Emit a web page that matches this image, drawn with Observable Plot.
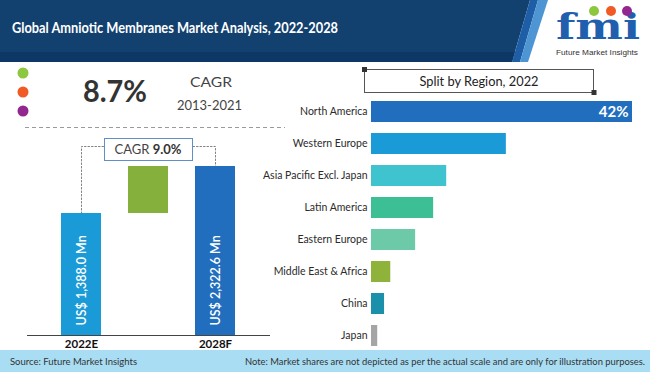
<!DOCTYPE html>
<html><head><meta charset="utf-8">
<script src="https://cdn.jsdelivr.net/npm/d3@7"></script>
<script src="https://cdn.jsdelivr.net/npm/@observablehq/plot@0.6"></script>
<style>
body{margin:0;background:#fff;}
#root{position:relative;width:650px;height:372px;overflow:hidden;font-family:Lato,"Noto Sans",sans-serif;}
#root > svg{position:absolute;}
</style></head><body><div id="root"></div>
<script>
// ---- data ----
const chartTitle = "Global Amniotic Membranes Market Analysis, 2022-2028";
const historicCagr = "8.7%";
const historicCagrLabel = "CAGR";
const historicPeriod = "2013-2021";
const forecastCagrLabel = "CAGR ";
const forecastCagr = "9.0%";
const marketYears = ["2022E", "2028F"];
const marketValues = [1388.0, 2322.6];
const marketLabels = ["US$ 1,388.0 Mn", "US$ 2,322.6 Mn"];
const splitTitle = "Split by Region, 2022";
const regions = ["North America", "Western Europe", "Asia Pacific Excl. Japan", "Latin America", "Eastern Europe", "Middle East & Africa", "China", "Japan"];
const regionShares = [42, 21.7, 12.1, 10.0, 7.1, 3.1, 2.1, 1.0];
const regionColors = ["#216ebe", "#1a9bd7", "#3ec3cf", "#3dbf96", "#6dcaa9", "#8eb23a", "#1b90ab", "#a5a5a5"];
const sourceText = "Source: Future Market Insights";
const noteText = "Note: Market shares are not depicted as per the actual scale and are only for illustration purposes.";
const logoText = "fmi";
const logoTagline = "Future Market Insights";

const root = document.getElementById("root");
const NS = "http://www.w3.org/2000/svg";
function svgEl(tag, attrs, parent, text) {
  const e = document.createElementNS(NS, tag);
  for (const k in attrs) e.setAttribute(k, attrs[k]);
  if (text != null) e.textContent = text;
  if (parent) parent.appendChild(e);
  return e;
}

// ---- background layer ----
const bg = svgEl("svg", {width: 650, height: 372, style: "left:0;top:0"}, root);
svgEl("polygon", {points: "0,0 530,0 512,62 0,62", fill: "#12406f"}, bg);
svgEl("polygon", {points: "0,52 515,52 512,62 0,62", fill: "#0d3765"}, bg);
svgEl("polygon", {points: "530,0 538,0 520,62 512,62", fill: "#1d5ea6"}, bg);
svgEl("polygon", {points: "538,0 548,0 528,62 520,62", fill: "#4d95d3"}, bg);
svgEl("line", {x1: 25, x2: 285, y1: 127.5, y2: 127.5, stroke: "#9a9a9a", "stroke-dasharray": "4,3"}, bg);
svgEl("rect", {x: 0, y: 350, width: 650, height: 22, fill: "#a9ddf3"}, bg);

// ---- waterfall (left) ----
const floorValue = -1038, bracketValue = 2720;
const steps = [
  {key: marketYears[0], y1: floorValue, y2: marketValues[0], fill: "#1a9bd7", label: marketLabels[0]},
  {key: "growth", y1: marketValues[0], y2: marketValues[1], fill: "#86b03c", label: null},
  {key: marketYears[1], y1: floorValue, y2: marketValues[1], fill: "#216ebe", label: marketLabels[1]}
];
const labeled = steps.filter(d => d.label);
const bracket = [
  {key: marketYears[0], v: marketValues[0]},
  {key: marketYears[0], v: bracketValue},
  {key: marketYears[1], v: bracketValue},
  {key: marketYears[1], v: marketValues[1]}
];
const left = Plot.plot({
  width: 300, height: 372,
  marginTop: 146, marginBottom: 37, marginLeft: 27, marginRight: 30,
  x: {domain: steps.map(d => d.key), range: [34.2, 262], padding: 0.4, axis: null},
  y: {domain: [floorValue, bracketValue], axis: null},
  style: {background: "transparent", overflow: "visible", fontFamily: "Lato, sans-serif"},
  marks: [
    Plot.line(bracket, {x: "key", y: "v", stroke: "#808080", strokeWidth: 1, strokeDasharray: "1.5,2"}),
    Plot.barY(steps, {x: "key", y1: "y1", y2: "y2", fill: "fill"}),
    Plot.ruleY([floorValue], {stroke: "#444", strokeWidth: 1}),
    Plot.text(labeled, {x: "key", y: floorValue, text: "label", rotate: -90, textAnchor: "start", dy: -10, fill: "white", fontSize: 12.5, fontWeight: 600}),
    Plot.text(labeled, {x: "key", y: floorValue, text: "key", dy: 9, fill: "#111", fontWeight: "bold", fontSize: 11.5})
  ]
});
left.style.position = "absolute"; left.style.left = "0px"; left.style.top = "0px";
root.appendChild(left);

// ---- region bars (right) ----
const shares = regions.map((r, i) => ({region: r, share: regionShares[i], color: regionColors[i]}));
const right = Plot.plot({
  width: 390, height: 372,
  marginLeft: 111, marginRight: 18, marginTop: 60, marginBottom: 20,
  x: {domain: [0, 42], axis: null},
  y: {domain: regions, range: [88.7, 358.4], padding: 0.35, axis: null},
  style: {background: "transparent", overflow: "visible", fontFamily: "Lato, sans-serif", fontSize: "10.5px", color: "#2b2b2b"},
  marks: [
    Plot.barX(shares, {y: "region", x: "share", fill: "color"}),
    Plot.axisY({tickSize: 0, tickPadding: 4, label: null, fontSize: 10.5}),
    Plot.text(shares.slice(0, 1), {y: "region", x: "share", text: d => d.share + "%", textAnchor: "end", dx: -4, fill: "white", fontWeight: "bold", fontSize: 15})
  ]
});
right.style.position = "absolute"; right.style.left = "260px"; right.style.top = "0px";
root.appendChild(right);

// ---- overlay texts ----
const ov = svgEl("svg", {width: 650, height: 372, style: "left:0;top:0;pointer-events:none;font-family:Lato,sans-serif"}, root);
svgEl("text", {x: 12, y: 33, fill: "#fff", "font-size": 15, "font-weight": "bold", textLength: 326, lengthAdjust: "spacingAndGlyphs"}, ov, chartTitle);

// logo
svgEl("text", {x: 556, y: 39, fill: "#1f5fae", "font-size": 35, "font-weight": "bold", "font-family": "DejaVu Serif, serif", textLength: 84, lengthAdjust: "spacingAndGlyphs"}, ov, logoText);
[["#8dc63f", 594], ["#f15a24", 611], ["#92278f", 627]].forEach(([c, x]) => svgEl("circle", {cx: x, cy: 11, r: 5, fill: c}, ov));
svgEl("text", {x: 556, y: 55, fill: "#333", "font-size": 8, "font-family": "Liberation Sans, Arial, sans-serif", textLength: 82, lengthAdjust: "spacingAndGlyphs"}, ov, logoTagline);

// historic CAGR
[["#8dc63f", 73], ["#f15a24", 92], ["#92278f", 111]].forEach(([c, y]) => svgEl("circle", {cx: 23, cy: y, r: 5.5, fill: c}, ov));
svgEl("text", {x: 115, y: 102, fill: "#333", "font-size": 31, "font-weight": "bold", "text-anchor": "middle", textLength: 64, lengthAdjust: "spacingAndGlyphs"}, ov, historicCagr);
svgEl("text", {x: 211, y: 87, fill: "#444", "font-size": 14, "text-anchor": "middle", textLength: 42, lengthAdjust: "spacingAndGlyphs"}, ov, historicCagrLabel);
svgEl("text", {x: 209.5, y: 110, fill: "#444", "font-size": 14, "text-anchor": "middle", textLength: 65, lengthAdjust: "spacingAndGlyphs"}, ov, historicPeriod);

// forecast CAGR box
svgEl("rect", {x: 104.5, y: 138.5, width: 88, height: 22, fill: "#fff", stroke: "#5f8fc4", "stroke-width": 1}, ov);
const ct = svgEl("text", {x: 148, y: 154, fill: "#444", "font-size": 13, "text-anchor": "middle"}, ov);
svgEl("tspan", {}, ct, forecastCagrLabel);
svgEl("tspan", {"font-weight": "bold", fill: "#333"}, ct, forecastCagr);

// split box
svgEl("rect", {x: 364.5, y: 69.5, width: 229, height: 23, fill: "none", stroke: "#555", "stroke-width": 1}, ov);
svgEl("rect", {x: 362, y: 67, width: 5, height: 5, fill: "#333"}, ov);
svgEl("rect", {x: 591.5, y: 90, width: 5, height: 5, fill: "#333"}, ov);
svgEl("text", {x: 479, y: 86, fill: "#222", "font-size": 14, "text-anchor": "middle", textLength: 119, lengthAdjust: "spacingAndGlyphs"}, ov, splitTitle);

// footer
svgEl("text", {x: 10, y: 364.5, fill: "#333", "font-size": 10, textLength: 127, lengthAdjust: "spacingAndGlyphs"}, ov, sourceText);
svgEl("text", {x: 245, y: 364.5, fill: "#333", "font-size": 9, textLength: 400, lengthAdjust: "spacingAndGlyphs"}, ov, noteText);
</script></body></html>
